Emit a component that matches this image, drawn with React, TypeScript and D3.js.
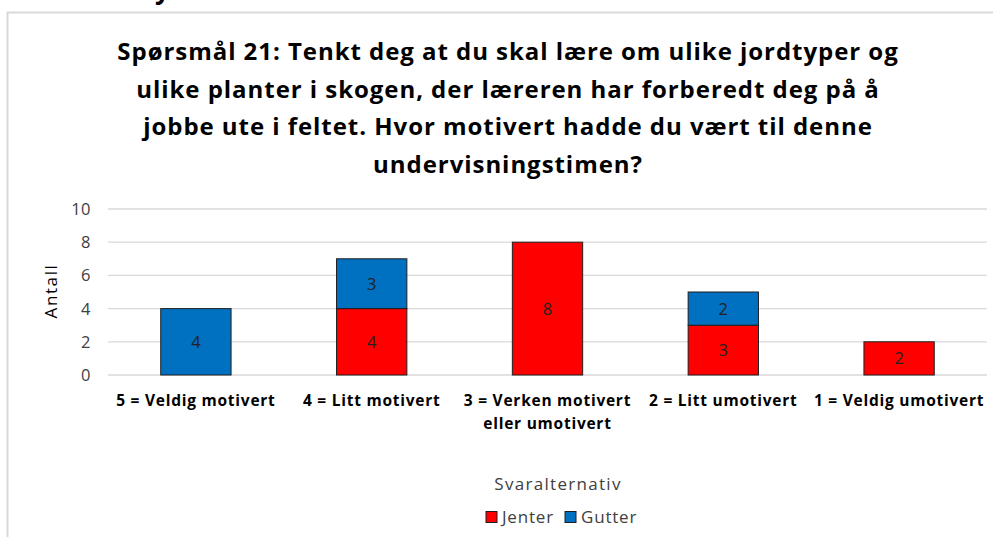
import React from "react";
import * as d3 from "d3";

const categories = [
  ["5 = Veldig motivert"],
  ["4 = Litt motivert"],
  ["3 = Verken motivert", "eller umotivert"],
  ["2 = Litt umotivert"],
  ["1 = Veldig umotivert"],
];
const jenter = [0, 4, 8, 3, 2];
const gutter = [4, 3, 0, 2, 0];
const yTicks = [0, 2, 4, 6, 8, 10];
const titleLines = [
  "Spørsmål 21: Tenkt deg at du skal lære om ulike jordtyper og",
  "ulike planter i skogen, der læreren har forberedt deg på å",
  "jobbe ute i feltet. Hvor motivert hadde du vært til denne",
  "undervisningstimen?",
];
const seriesNames = ["Jenter", "Gutter"];
const seriesColors = ["#FF0000", "#0070C0"];

const FONT = "'Open Sans', sans-serif";

export default function App() {
  const W = 993, H = 537;
  const x = d3.scaleBand<number>().domain(d3.range(categories.length)).range([108, 987]).paddingInner(0.6).paddingOuter(0.3);
  const y = d3.scaleLinear().domain([0, 10]).range([375, 209]);
  const stack = d3.stack<number>().keys(["0", "1"]).value((i, k) => (k === "0" ? jenter[i] : gutter[i]));
  const stacked = stack(d3.range(categories.length));

  return (
    <svg width={W} height={H} style={{ position: "absolute", left: 0, top: 0, background: "#fff" }}>
      <rect x={0} y={0} width={W} height={H} fill="#fff" />
      <text x={155} y={-1} fontFamily={FONT} fontWeight="bold" fontSize={26} fill="#000">y</text>
      <line x1={7} x2={W} y1={12.5} y2={12.5} stroke="#d9d9d9" strokeWidth={2} />
      <line x1={7.5} x2={7.5} y1={12} y2={H} stroke="#d9d9d9" strokeWidth={2} />
      {titleLines.map((t, i) => (
        <text key={i} x={508} y={60 + i * 37.7} textAnchor="middle" fontFamily={FONT} fontWeight="bold" fontSize={24} letterSpacing={0.95} fill="#000">{t}</text>
      ))}
      {yTicks.map((t) => (
        <g key={t}>
          <line x1={108} x2={987} y1={y(t)} y2={y(t)} stroke="#d9d9d9" strokeWidth={1.3} />
          <text x={91} y={y(t) + 6} textAnchor="end" fontFamily={FONT} fontSize={16.5} letterSpacing={0.5} fill="#404040">{t}</text>
        </g>
      ))}
      <text transform={`translate(57,291) rotate(-90)`} textAnchor="middle" fontFamily={FONT} fontSize={17} letterSpacing={1.6} fill="#000">Antall</text>
      {stacked.map((s, si) => (
        <g key={si}>
          {s.map((d, i) => {
            const v = d[1] - d[0];
            if (v <= 0) return null;
            const x0 = x(i)!;
            const y0 = y(d[1]), y1 = y(d[0]);
            return (
              <g key={i}>
                <rect x={x0} y={y0} width={x.bandwidth()} height={y1 - y0} fill={seriesColors[si]} stroke="#1f1f1f" strokeWidth={1} />
                <text x={x0 + x.bandwidth() / 2} y={(y0 + y1) / 2 + 6} textAnchor="middle" fontFamily={FONT} fontSize={16.5} fill="#222">{v}</text>
              </g>
            );
          })}
        </g>
      ))}
      {categories.map((lines, i) => (
        <text key={i} textAnchor="middle" fontFamily={FONT} fontWeight="bold" fontSize={15.5} letterSpacing={0.75} fill="#000">
          {lines.map((l, j) => (
            <tspan key={j} x={x(i)! + x.bandwidth() / 2} y={406 + j * 23}>{l}</tspan>
          ))}
        </text>
      ))}
      <text x={558} y={490} textAnchor="middle" fontFamily={FONT} fontSize={17} letterSpacing={1.3} fill="#404040">Svaralternativ</text>
      {seriesNames.map((n, i) => {
        const lx = 486 + i * 79;
        return (
          <g key={n}>
            <rect x={lx} y={511.5} width={11} height={11} fill={seriesColors[i]} stroke="#1f1f1f" strokeWidth={1} />
            <text x={lx + 16} y={523} fontFamily={FONT} fontSize={17} letterSpacing={0.8} fill="#404040">{n}</text>
          </g>
        );
      })}
    </svg>
  );
}
